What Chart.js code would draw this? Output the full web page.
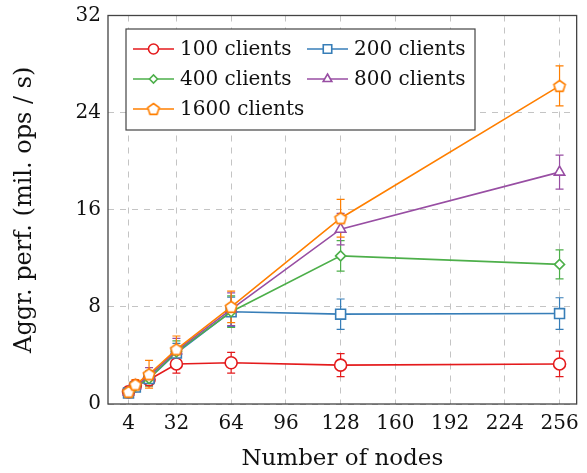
<!doctype html>
<html lang="en">
<head>
  <meta charset="utf-8">
  <title>Aggregate performance</title>
  <script src="https://cdn.jsdelivr.net/npm/chart.js/dist/chart.umd.min.js"></script>
  <style>
    html, body { margin: 0; padding: 0; background: #fff; }
    .chartBox { width: 587px; height: 473px; }
  </style>
</head>
<body>
  <div class="chartBox">
    <canvas id="myChart"></canvas>
  </div>
  <script>
    // number of nodes (x)
    const nodes = [4, 8, 16, 32, 64, 128, 256];
    const xTicks = [4, 32, 64, 96, 128, 160, 192, 224, 256];

    // mean performance (mil. ops / s)
    const c100 = [1.0, 1.5, 2.0, 3.3, 3.4, 3.2, 3.3];
    const c200 = [0.9, 1.4, 2.1, 4.2, 7.6, 7.4, 7.45];
    const c400 = [1.0, 1.5, 2.1, 4.3, 7.6, 12.2, 11.5];
    const c800 = [1.0, 1.5, 2.3, 4.4, 7.8, 14.4, 19.1];
    const c1600 = [1.0, 1.6, 2.45, 4.5, 8.0, 15.3, 26.2];

    // error bars (+/-)
    const e100 = [0.3, 0.3, 0.5, 0.75, 0.85, 0.95, 1.05];
    const e200 = [0.3, 0.3, 0.5, 0.8, 1.2, 1.25, 1.3];
    const e400 = [0.3, 0.35, 0.6, 0.9, 1.3, 1.25, 1.2];
    const e800 = [0.3, 0.35, 0.7, 1.0, 1.35, 1.3, 1.4];
    const e1600 = [0.3, 0.4, 1.15, 1.1, 1.3, 1.55, 1.65];

    const FONT = '"DejaVu Serif", serif';
    const FSIZE = 20;

    // pentagon marker for the 1600 series
    function pentagon(color) {
      const c = document.createElement('canvas');
      c.width = 16; c.height = 16;
      const g = c.getContext('2d');
      g.beginPath();
      for (let i = 0; i < 5; i++) {
        const a = -Math.PI / 2 + i * 2 * Math.PI / 5;
        const px = 8 + 6 * Math.cos(a), py = 8.5 + 6 * Math.sin(a);
        i ? g.lineTo(px, py) : g.moveTo(px, py);
      }
      g.closePath();
      g.fillStyle = '#fff';
      g.fill();
      g.lineWidth = 1.6;
      g.strokeStyle = color;
      g.stroke();
      return c;
    }

    function series(label, ys, errs, color, style, radius, order) {
      return {
        label,
        data: nodes.map((n, i) => ({ x: n, y: ys[i] })),
        errors: errs,
        borderColor: color,
        backgroundColor: '#fff',
        borderWidth: 1.6,
        pointStyle: style,
        pointRadius: radius,
        pointHoverRadius: radius,
        pointBorderWidth: 1.6,
        pointBackgroundColor: '#fff',
        order
      };
    }

    const datasets = [
      series('100 clients', c100, e100, '#e41a1c', 'circle', 6, 4),
      series('200 clients', c200, e200, '#377eb8', 'rect', 7, 3),
      series('400 clients', c400, e400, '#4daf4a', 'rectRot', 5, 2),
      series('800 clients', c800, e800, '#984ea3', 'triangle', 6, 1),
      series('1600 clients', c1600, e1600, '#ff7f00', pentagon('#ff7f00'), 6, 0)
    ];

    // error bars, drawn below the markers
    const errorBars = {
      id: 'errorBars',
      beforeDatasetsDraw(chart) {
        const ctx = chart.ctx, xs = chart.scales.x, ys = chart.scales.y;
        ctx.save();
        chart.data.datasets.forEach(ds => {
          ctx.strokeStyle = ds.borderColor;
          ctx.lineWidth = 1.2;
          ds.data.forEach((p, i) => {
            const x = xs.getPixelForValue(p.x);
            const y1 = ys.getPixelForValue(p.y - ds.errors[i]);
            const y2 = ys.getPixelForValue(p.y + ds.errors[i]);
            ctx.beginPath();
            ctx.moveTo(x, y1); ctx.lineTo(x, y2);
            ctx.moveTo(x - 4, y1); ctx.lineTo(x + 4, y1);
            ctx.moveTo(x - 4, y2); ctx.lineTo(x + 4, y2);
            ctx.stroke();
          });
        });
        ctx.restore();
      }
    };

    // frame + legend box inside the plot
    const frameLegend = {
      id: 'frameLegend',
      afterDraw(chart) {
        const ctx = chart.ctx, a = chart.chartArea;
        ctx.save();
        ctx.strokeStyle = '#444';
        ctx.lineWidth = 1.3;
        ctx.strokeRect(a.left, a.top, a.right - a.left, a.bottom - a.top);

        const bx = a.left + 18, by = a.top + 13.5, bw = 349, bh = 101;
        ctx.fillStyle = '#fff';
        ctx.fillRect(bx, by, bw, bh);
        ctx.strokeStyle = '#444';
        ctx.lineWidth = 1.2;
        ctx.strokeRect(bx, by, bw, bh);

        ctx.font = FSIZE + 'px ' + FONT;
        ctx.textBaseline = 'middle';
        chart.data.datasets.forEach((ds, i) => {
          const col = i % 2, row = Math.floor(i / 2);
          const lx = bx + 7 + col * 174, ly = by + 20 + row * 30;
          ctx.strokeStyle = ds.borderColor;
          ctx.lineWidth = 1.6;
          ctx.beginPath();
          ctx.moveTo(lx, ly); ctx.lineTo(lx + 41, ly);
          ctx.stroke();
          ctx.fillStyle = '#fff';
          Chart.helpers.drawPoint(ctx, {
            pointStyle: ds.pointStyle, radius: ds.pointRadius - 1,
            borderWidth: 1.6, rotation: 0
          }, lx + 20.5, ly);
          ctx.fillStyle = '#111';
          ctx.fillText(ds.label, lx + 47, ly + 1);
        });
        ctx.restore();
      }
    };

    new Chart(document.getElementById('myChart'), {
      type: 'line',
      data: { datasets },
      options: {
        responsive: true,
        maintainAspectRatio: false,
        animation: false,
        layout: { padding: { top: 15.5, right: 10, left: 0, bottom: 0 } },
        plugins: { legend: { display: false }, tooltip: { enabled: false } },
        scales: {
          x: {
            type: 'linear',
            min: -8,
            max: 266,
            afterBuildTicks(scale) {
              scale.ticks = xTicks.map(v => ({ value: v }));
            },
            afterFit(scale) { scale.height = 69; },
            grid: { color: '#c4c4c4', drawTicks: false },
            border: { display: false, dash: [6, 6] },
            ticks: {
              color: '#111',
              font: { family: FONT, size: FSIZE },
              padding: 8,
              maxRotation: 0
            },
            title: {
              display: true,
              text: 'Number of nodes',
              color: '#111',
              font: { family: FONT, size: 23 },
              padding: { top: 0, bottom: 0 }
            }
          },
          y: {
            min: 0,
            max: 32,
            ticks: {
              stepSize: 8,
              color: '#111',
              font: { family: FONT, size: FSIZE },
              padding: 7
            },
            afterFit(scale) {
              scale.width = 108;
              scale.paddingTop = 0;
              scale.paddingBottom = 0;
            },
            grid: { color: '#c4c4c4', drawTicks: false },
            border: { display: false, dash: [6, 6] },
            title: {
              display: true,
              text: 'Aggr. perf. (mil. ops / s)',
              color: '#111',
              font: { family: FONT, size: 24 },
              padding: { top: 10, bottom: 0 }
            }
          }
        }
      },
      plugins: [errorBars, frameLegend]
    });
  </script>
</body>
</html>
